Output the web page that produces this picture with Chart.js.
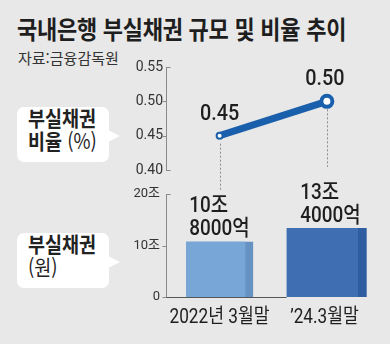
<!DOCTYPE html>
<html lang="ko">
<head>
<meta charset="utf-8">
<script src="https://cdn.jsdelivr.net/npm/chart.js@4/dist/chart.umd.min.js"></script>
<style>
  html, body { margin: 0; padding: 0; }
  body {
    width: 390px; height: 344px; overflow: hidden; position: relative;
    background: #e8e8e8;
    font-family: "Noto Sans CJK KR", "Noto Sans", sans-serif; color: #222;
  }
  .title {
    position: absolute; left: 17px; top: 10px; white-space: nowrap;
    font-size: 25px; font-weight: 700; letter-spacing: -0.3px; color: #1e1e1e;
    transform: scaleX(0.88); transform-origin: left top;
  }
  .source {
    position: absolute; left: 18px; top: 47px; white-space: nowrap;
    font-size: 15px; color: #333;
  }
  .callout {
    position: absolute; left: 17px; width: 92px; height: 55px;
    background: #fff; border-radius: 7px;
  }
  .callout::after {
    content: ""; position: absolute; right: -11px; top: 23px;
    border-style: solid; border-width: 6px 0 6px 12px;
    border-color: transparent transparent transparent #fff;
  }
  .callout .txt {
    position: absolute; left: 11px; top: -1px; white-space: nowrap;
    font-size: 21px; line-height: 23px; font-weight: 700;
    transform: scaleX(0.88); transform-origin: left top;
  }
  .callout .txt span { font-weight: 400; }
  canvas { position: absolute; }
  #rateChart { left: 100px; top: 50px; }
  #amountChart { left: 100px; top: 170px; }
</style>
</head>
<body>
<div class="title">국내은행 부실채권 규모 및 비율 추이</div>
<div class="source">자료:금융감독원</div>
<div class="callout" style="top:107px"><div class="txt">부실채권<br>비율 <span>(%)</span></div></div>
<div class="callout" style="top:233px"><div class="txt">부실채권<br><span>(원)</span></div></div>

<canvas id="rateChart" width="290" height="140"></canvas>
<canvas id="amountChart" width="290" height="174"></canvas>

<script>
// 기준 시점
const periods = ['2022년 3월말', '\u201924.3월말'];
// 부실채권 비율 (%)
const ratioValues = [0.45, 0.50];
const ratioTicks = [0.40, 0.45, 0.50, 0.55];
// 부실채권 규모 (조원)
const amountValues = [10.8, 13.4];
const amountTicks = [0, 10, 20];

const FONT = 'Roboto, "Noto Sans CJK KR", sans-serif';
const AXIS_COLOR = '#8a8a8a';
const LINE_BLUE = '#1a5fac';

const fmtRatio = v => v.toFixed(2);
const fmtTick = v => (v === 0 ? '0' : v + '조');
// 10.8 -> ['10조', '8000억']
const fmtAmount = v => [Math.floor(v) + '조', Math.round((v % 1) * 10000) + '억'];

// 가로로 좁힌 글자 (sx 비율)
function narrowText(ctx, text, x, y, sx) {
  ctx.save();
  ctx.translate(x, y);
  ctx.scale(sx, 1);
  ctx.fillText(text, 0, 0);
  ctx.restore();
}

// y축 짧은 눈금 (양 끝은 안쪽, 가운데는 바깥쪽)
const axisTicks = {
  id: 'axisTicks',
  afterDraw(chart) {
    const { ctx } = chart;
    const y = chart.scales.y;
    const x0 = Math.round(y.right) + 0.5;
    const ticks = y.ticks.map(t => t.value);
    ctx.save();
    ctx.strokeStyle = AXIS_COLOR;
    ctx.lineWidth = 1;
    ticks.forEach((v, i) => {
      const py = Math.round(y.getPixelForValue(v)) + 0.5;
      const inward = i === ticks.length - 1 || (i === 0 && chart.canvas.id === 'rateChart');
      ctx.beginPath();
      ctx.moveTo(x0, py);
      ctx.lineTo(inward ? x0 + 4 : x0 - 4, py);
      ctx.stroke();
    });
    ctx.restore();
  }
};

// 점선 가이드와 비율 라벨
const ratioLabels = {
  id: 'ratioLabels',
  afterDatasetsDraw(chart) {
    const { ctx } = chart;
    const pts = chart.getDatasetMeta(0).data;
    const dropEnd = [140, 117];
    ctx.save();
    ctx.strokeStyle = '#8c8c8c';
    ctx.lineWidth = 1;
    ctx.setLineDash([2, 2]);
    pts.forEach((p, i) => {
      ctx.beginPath();
      ctx.moveTo(Math.round(p.x) + 0.5, p.y + 8);
      ctx.lineTo(Math.round(p.x) + 0.5, dropEnd[i]);
      ctx.stroke();
    });
    ctx.setLineDash([]);
    ctx.fillStyle = '#1e1e1e';
    ctx.font = '500 22px ' + FONT;
    ctx.textAlign = 'center';
    ctx.textBaseline = 'alphabetic';
    pts.forEach((p, i) => {
      narrowText(ctx, fmtRatio(ratioValues[i]), p.x - (i === 0 ? 0 : 2), p.y - 16, 0.9);
    });
    ctx.restore();
  }
};

// 가로 기준선, 막대 위 금액 라벨, 좁은 글꼴의 x축 라벨
const amountLabels = {
  id: 'amountLabels',
  afterDatasetsDraw(chart) {
    const { ctx } = chart;
    const area = chart.chartArea;
    const xs = chart.scales.x;
    const bars = chart.data.datasets.map((ds, i) => chart.getDatasetMeta(i).data[i]);
    const last = bars[bars.length - 1];
    ctx.save();
    ctx.strokeStyle = '#555';
    ctx.lineWidth = 1.2;
    ctx.beginPath();
    ctx.moveTo(area.left, Math.round(area.bottom) + 0.5);
    ctx.lineTo(last.x - last.width / 2, Math.round(area.bottom) + 0.5);
    ctx.stroke();

    const sx = 0.86;
    ctx.fillStyle = '#1e1e1e';
    ctx.font = '500 22px ' + FONT;
    ctx.textAlign = 'left';
    ctx.textBaseline = 'alphabetic';
    bars.forEach((b, i) => {
      const [jo, eok] = fmtAmount(amountValues[i]);
      const left = b.x - ctx.measureText(eok).width * sx / 2 + (i === 0 ? 0 : 4);
      narrowText(ctx, jo, left, b.y - 29, sx);
      narrowText(ctx, eok, left, b.y - 6, sx);
    });

    ctx.font = '20px ' + FONT;
    ctx.textAlign = 'center';
    periods.forEach((label, i) => {
      narrowText(ctx, label, xs.getPixelForTick(i) - (i === 0 ? 0 : 2), area.bottom + 26, 0.86);
    });
    ctx.restore();
  }
};

const yAxisBase = {
  afterFit(scale) { scale.width = 66; },
  grid: { display: false, drawTicks: false },
  border: { display: true, color: AXIS_COLOR, width: 1 },
  ticks: { color: '#333', font: { family: FONT, size: 14 }, padding: 3 }
};

new Chart(document.getElementById('rateChart'), {
  type: 'line',
  data: {
    labels: periods,
    datasets: [{
      data: ratioValues,
      borderColor: LINE_BLUE,
      borderWidth: 7,
      pointRadius: [3, 5.5],
      pointBorderWidth: [2, 4],
      pointBackgroundColor: '#fff',
      pointBorderColor: LINE_BLUE,
      clip: false
    }]
  },
  options: {
    responsive: false,
    animation: false,
    events: [],
    layout: { padding: { top: 17, right: 8, bottom: 20, left: 0 } },
    plugins: { legend: { display: false }, tooltip: { enabled: false } },
    scales: {
      x: { display: false, offset: true },
      y: {
        ...yAxisBase,
        min: 0.40, max: 0.55,
        afterBuildTicks(scale) { scale.ticks = ratioTicks.map(v => ({ value: v })); },
        ticks: { ...yAxisBase.ticks, callback: v => fmtRatio(v) }
      }
    }
  },
  plugins: [axisTicks, ratioLabels]
});

new Chart(document.getElementById('amountChart'), {
  type: 'bar',
  data: {
    labels: periods,
    datasets: [
      {
        data: [amountValues[0], null],
        backgroundColor: '#78a6d6',
        borderColor: '#6691c3',
        borderWidth: { top: 0, right: 8, bottom: 0, left: 0 },
        borderSkipped: false,
        barThickness: 67
      },
      {
        data: [null, amountValues[1]],
        backgroundColor: '#3f6eb3',
        borderColor: '#2e5da2',
        borderWidth: { top: 0, right: 9, bottom: 0, left: 0 },
        borderSkipped: false,
        barThickness: 80
      }
    ]
  },
  options: {
    responsive: false,
    animation: false,
    events: [],
    layout: { padding: { top: 24, right: 10, bottom: 0, left: 0 } },
    plugins: { legend: { display: false }, tooltip: { enabled: false } },
    scales: {
      x: {
        offset: true,
        afterFit(scale) { scale.height = 47; },
        grid: { display: false, drawTicks: false },
        border: { display: false },
        ticks: { display: false, autoSkip: false }
      },
      y: {
        ...yAxisBase,
        min: 0, max: 20,
        afterBuildTicks(scale) { scale.ticks = amountTicks.map(v => ({ value: v })); },
        ticks: { ...yAxisBase.ticks, font: { family: FONT, size: 13 }, padding: 6, callback: v => fmtTick(v) }
      }
    },
    datasets: { bar: { grouped: false } }
  },
  plugins: [axisTicks, amountLabels]
});
</script>
</body>
</html>
